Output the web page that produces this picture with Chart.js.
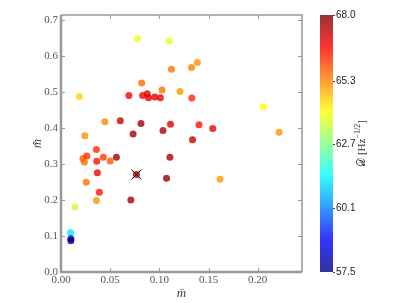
<!DOCTYPE html>
<html>
<head>
<meta charset="utf-8">
<script src="https://cdn.jsdelivr.net/npm/chart.js@4.4.0/dist/chart.umd.min.js"></script>
<style>
  html, body { margin: 0; padding: 0; background: #fff; }
  #wrap { position: relative; width: 407px; height: 303px; overflow: hidden; }
  #main { position: absolute; left: 0; top: 0; }
  #cbar { position: absolute; left: 300px; top: 0; }
</style>
</head>
<body>
<div id="wrap">
  <canvas id="main" width="310" height="303"></canvas>
  <canvas id="cbar" width="107" height="303"></canvas>
</div>
<script>
// scatter data: m-bar (x), m-hat (y), D (colour)
const mBar = [
  0.0187, 0.0777, 0.0243, 0.0360, 0.0447, 0.0603, 0.0690, 0.0733, 0.0813, 0.0820,
  0.0830, 0.0877, 0.0890, 0.0953, 0.1010, 0.1027, 0.1037, 0.1100, 0.1113, 0.1123,
  0.1210, 0.1327, 0.1330, 0.1337, 0.1387, 0.2057, 0.1403, 0.1543, 0.2217, 0.0223,
  0.0263, 0.0237, 0.0363, 0.0430, 0.0500, 0.0563, 0.0370, 0.0767, 0.0257, 0.0390,
  0.0360, 0.0710, 0.0143, 0.0097, 0.0100, 0.0100, 0.1107, 0.1073, 0.1617
];
const mHat = [
  0.488, 0.649, 0.379, 0.341, 0.418, 0.421, 0.491, 0.384, 0.413, 0.526,
  0.491, 0.496, 0.485, 0.487, 0.485, 0.506, 0.394, 0.643, 0.411, 0.564,
  0.502, 0.569, 0.484, 0.368, 0.583, 0.459, 0.410, 0.399, 0.389, 0.316,
  0.323, 0.306, 0.308, 0.319, 0.309, 0.319, 0.276, 0.271, 0.250, 0.222,
  0.199, 0.200, 0.181, 0.109, 0.0925, 0.087, 0.319, 0.261, 0.258
];
const dValues = [
  64.5, 63.9, 65.2, 66.2, 65.3, 67.3, 66.7, 67.6, 67.6, 65.6,
  66.8, 66.9, 67.0, 66.9, 66.9, 65.5, 67.6, 63.8, 67.0, 65.5,
  65.1, 65.4, 66.3, 67.3, 65.2, 64.1, 66.5, 66.9, 65.2, 65.7,
  66.2, 65.6, 66.5, 66.1, 65.8, 67.6, 66.8, 67.9, 65.5, 66.5,
  65.2, 67.6, 63.5, 61.2, 57.8, 57.5, 67.6, 67.7, 65.1
];

// highlighted point (black X)
const markX = [0.0767];
const markY = [0.271];

const xTicks = [0, 0.05, 0.10, 0.15, 0.20];
const yTicks = [0, 0.1, 0.2, 0.3, 0.4, 0.5, 0.6, 0.7];
const cbTicks = [57.5, 60.1, 62.7, 65.3, 68.0];
const cbMin = 57.5;
const cbMax = 68.0;

const ALPHA = 0.8;
const tickFont = { family: "'Liberation Serif', serif", size: 11 };
const tickColor = '#555';
const spineColor = '#999';

// matplotlib-style jet colormap
function jet(t, a) {
  const c = v => Math.round(255 * Math.max(0, Math.min(1, v)));
  const r = c(1.5 - Math.abs(4 * t - 3));
  const g = c(1.5 - Math.abs(4 * t - 2));
  const b = c(1.5 - Math.abs(4 * t - 1));
  return `rgba(${r}, ${g}, ${b}, ${a})`;
}
const colorFor = d => jet((d - cbMin) / (cbMax - cbMin), ALPHA);

// spines + inward tick marks on all four sides
const framePlugin = {
  id: 'frame',
  afterDraw(chart) {
    const { ctx, chartArea: a, scales } = chart;
    ctx.save();
    ctx.strokeStyle = spineColor;
    ctx.lineWidth = 1;
    const len = 4;
    scales.x.ticks.forEach(t => {
      const px = Math.round(scales.x.getPixelForValue(t.value)) + 0.5;
      if (px <= a.left + 1 || px >= a.right - 1) return;
      ctx.beginPath();
      ctx.moveTo(px, a.bottom); ctx.lineTo(px, a.bottom - len);
      ctx.moveTo(px, a.top); ctx.lineTo(px, a.top + len);
      ctx.stroke();
    });
    scales.y.ticks.forEach(t => {
      const py = Math.round(scales.y.getPixelForValue(t.value)) + 0.5;
      if (py >= a.bottom - 1 || py <= a.top + 1) return;
      ctx.beginPath();
      ctx.moveTo(a.left, py); ctx.lineTo(a.left + len, py);
      ctx.moveTo(a.right, py); ctx.lineTo(a.right - len, py);
      ctx.stroke();
    });
    // top / right thin, left / bottom heavier
    ctx.lineWidth = 1.5;
    ctx.beginPath();
    ctx.moveTo(a.left, a.top); ctx.lineTo(a.right, a.top); ctx.lineTo(a.right, a.bottom);
    ctx.stroke();
    ctx.lineWidth = 2.5;
    ctx.beginPath();
    ctx.moveTo(a.left, a.top); ctx.lineTo(a.left, a.bottom); ctx.lineTo(a.right, a.bottom);
    ctx.stroke();
    ctx.restore();
  }
};

const points = mBar.map((x, i) => ({ x, y: mHat[i] }));

new Chart(document.getElementById('main'), {
  type: 'scatter',
  data: {
    datasets: [
      {
        data: points,
        backgroundColor: dValues.map(colorFor),
        borderWidth: 0,
        pointRadius: 3.5,
        pointHoverRadius: 3.5
      },
      {
        data: markX.map((x, i) => ({ x, y: markY[i] })),
        pointStyle: 'crossRot',
        pointRadius: 7,
        borderColor: '#000',
        borderWidth: 1,
        backgroundColor: '#000'
      }
    ]
  },
  options: {
    responsive: false,
    animation: false,
    events: [],
    layout: { padding: { left: 0, top: 15, right: 5, bottom: 0 } },
    plugins: { legend: { display: false }, tooltip: { enabled: false } },
    scales: {
      x: {
        type: 'linear',
        min: 0,
        max: 0.245,
        afterBuildTicks: s => { s.ticks = xTicks.map(v => ({ value: v })); },
        afterFit: s => { s.height = 31; },
        grid: { display: false, drawTicks: false },
        border: { display: false },
        ticks: { font: tickFont, color: tickColor, padding: 2, maxRotation: 0,
                 callback: v => v.toFixed(2) },
        title: { display: true, text: 'm\u0304', color: '#444',
                 font: { family: "'Liberation Serif', serif", size: 13, style: 'italic' },
                 padding: { top: 0, bottom: 2 } }
      },
      y: {
        type: 'linear',
        min: 0,
        max: 0.715,
        afterBuildTicks: s => { s.ticks = yTicks.map(v => ({ value: v })); },
        afterFit: s => { s.width = 61; },
        grid: { display: false, drawTicks: false },
        border: { display: false },
        ticks: { font: tickFont, color: tickColor, padding: 3,
                 callback: v => v.toFixed(1) },
        title: { display: true, text: 'm\u0302', color: '#444',
                 font: { family: "'Liberation Serif', serif", size: 13, style: 'italic' },
                 padding: { top: 30, bottom: 0 } }
      }
    }
  },
  plugins: [framePlugin]
});

// colorbar label, rotated like matplotlib's
const cbLabelPlugin = {
  id: 'cbLabel',
  afterDraw(chart) {
    const { ctx, chartArea: a } = chart;
    const sym = '\u{1D49F}';
    const sup = '\u22121/2';
    const end = ']';
    const f1 = "11px 'DejaVu Serif', 'DejaVu Sans', serif";
    const f2 = "8px 'Liberation Serif', serif";
    const f3 = "11px 'Liberation Serif', serif";
    ctx.save();
    ctx.fillStyle = '#333';
    ctx.translate(62, (a.top + a.bottom) / 2);
    ctx.rotate(-Math.PI / 2);
    ctx.textBaseline = 'middle';
    ctx.font = f1; const wD = ctx.measureText(sym).width;
    ctx.font = f3; const wM = ctx.measureText(' [Hz').width;
    ctx.font = f2; const wS = ctx.measureText(sup).width;
    ctx.font = f3; const wE = ctx.measureText(end).width;
    let x = -(wD + wM + wS + wE) / 2;
    ctx.font = f1; ctx.fillText(sym, x, 0); x += wD;
    ctx.font = f3; ctx.fillText(' [Hz', x, 0); x += wM;
    ctx.font = f2; ctx.fillText(sup, x, -4); x += wS;
    ctx.font = f3; ctx.fillText(end, x, 0);
    ctx.restore();
  }
};

new Chart(document.getElementById('cbar'), {
  type: 'bar',
  data: {
    labels: ['D'],
    datasets: [{
      data: [[cbMin, cbMax]],
      borderWidth: 0,
      barPercentage: 1,
      categoryPercentage: 1,
      backgroundColor: c => {
        const ch = c.chart;
        if (!ch.chartArea) return 'rgba(0,0,0,0)';
        const y = ch.scales.y;
        const g = ch.ctx.createLinearGradient(0, y.getPixelForValue(cbMin), 0, y.getPixelForValue(cbMax));
        for (let i = 0; i <= 8; i++) g.addColorStop(i / 8, jet(i / 8, ALPHA));
        return g;
      }
    }]
  },
  options: {
    responsive: false,
    animation: false,
    events: [],
    layout: { padding: { left: 20, top: 15, right: 0, bottom: 31 } },
    plugins: { legend: { display: false }, tooltip: { enabled: false } },
    scales: {
      x: { display: false },
      y: {
        position: 'right',
        min: cbMin,
        max: cbMax,
        afterBuildTicks: s => { s.ticks = cbTicks.map(v => ({ value: v })); },
        afterFit: s => { s.width = 74; },
        grid: { drawOnChartArea: false, tickLength: 2, color: '#444' },
        border: { display: false },
        ticks: { font: { family: "'Liberation Sans', sans-serif", size: 10 }, color: '#222',
                 padding: 1, callback: v => v.toFixed(1) }
      }
    }
  },
  plugins: [cbLabelPlugin]
});
</script>
</body>
</html>
